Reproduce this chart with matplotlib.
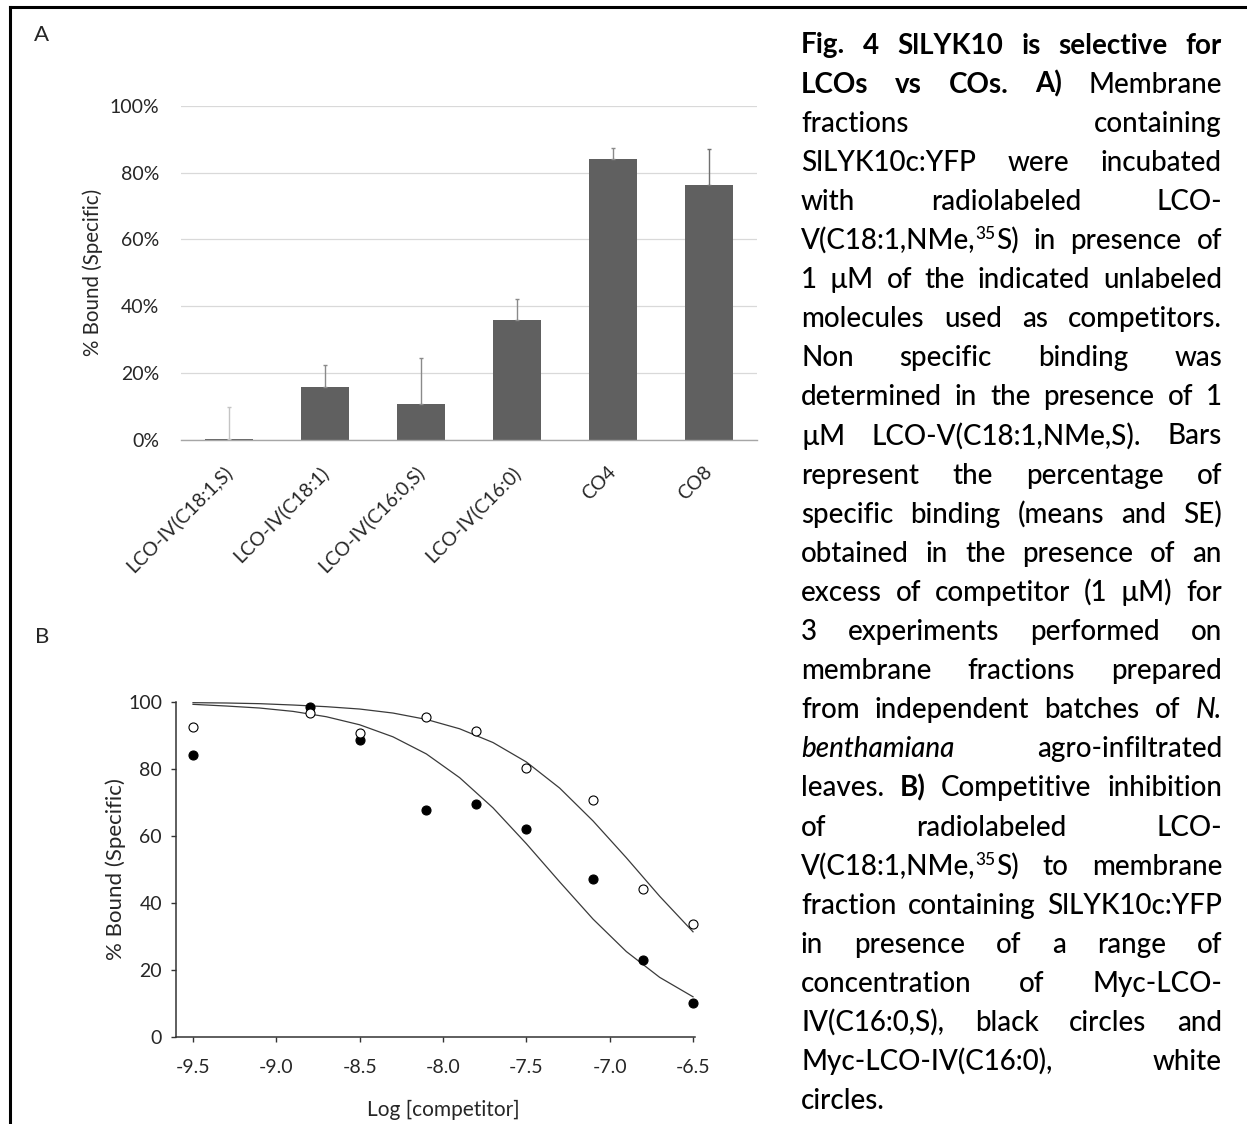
import matplotlib
matplotlib.use('Agg')
import matplotlib.pyplot as plt
from matplotlib.font_manager import FontProperties
from matplotlib.lines import Line2D
import numpy as np

plt.rcParams['font.family'] = ['Lato', 'DejaVu Sans']
plt.rcParams['axes.unicode_minus'] = False

W, H, DPI = 1247, 1124, 100

# ---------------- Panel A data ----------------
categories = ['LCO-IV(C18:1,S)', 'LCO-IV(C18:1)', 'LCO-IV(C16:0,S)',
              'LCO-IV(C16:0)', 'CO4', 'CO8']
bound_mean = [0.3, 15.8, 10.9, 35.9, 84.2, 76.4]
bound_se = [9.7, 6.7, 13.6, 6.2, 3.1, 10.5]
yticks_a = [0, 20, 40, 60, 80, 100]
ytick_labels_a = ['0%', '20%', '40%', '60%', '80%', '100%']

# ---------------- Panel B data ----------------
log_conc = [-9.5, -8.8, -8.5, -8.1, -7.8, -7.5, -7.1, -6.8, -6.5]
black_vals = [84.3, 98.5, 88.8, 67.9, 69.5, 62.0, 47.1, 23.0, 10.1]
white_vals = [92.5, 96.8, 90.6, 95.5, 91.4, 80.4, 70.7, 44.1, 33.7]
curve_x = [-9.5, -9.3, -9.1, -8.9, -8.7, -8.5, -8.3, -8.1,
           -7.9, -7.7, -7.5, -7.3, -7.1, -6.9, -6.7, -6.5]
black_curve = [99.3, 98.8, 98.2, 97.2, 95.6, 93.2, 89.6, 84.5,
               77.4, 68.4, 57.7, 46.3, 35.2, 25.5, 17.8, 12.0]
white_curve = [99.8, 99.7, 99.5, 99.1, 98.6, 97.9, 96.7, 94.8,
               92.0, 87.9, 82.1, 74.3, 64.5, 53.5, 42.0, 31.4]
xticks_b = [-9.5, -9.0, -8.5, -8.0, -7.5, -7.0, -6.5]
xtick_labels_b = ['-9.5', '-9.0', '-8.5', '-8.0', '-7.5', '-7.0', '-6.5']
yticks_b = [0, 20, 40, 60, 80, 100]

# ---------------- Caption ----------------
caption_lines = [
    "**Fig. 4 SlLYK10 is selective for**",
    "**LCOs vs COs. A)** Membrane",
    "fractions containing",
    "SlLYK10c:YFP were incubated",
    "with radiolabeled LCO-",
    "V(C18:1,NMe,^35^S) in presence of",
    "1 µM of the indicated unlabeled",
    "molecules used as competitors.",
    "Non specific binding was",
    "determined in the presence of 1",
    "µM LCO-V(C18:1,NMe,S). Bars",
    "represent the percentage of",
    "specific binding (means and SE)",
    "obtained in the presence of an",
    "excess of competitor (1 µM) for",
    "3 experiments performed on",
    "membrane fractions prepared",
    "from independent batches of *N.*",
    "*benthamiana* agro-infiltrated",
    "leaves. **B)** Competitive inhibition",
    "of radiolabeled LCO-",
    "V(C18:1,NMe,^35^S) to membrane",
    "fraction containing SlLYK10c:YFP",
    "in presence of a range of",
    "concentration of Myc-LCO-",
    "IV(C16:0,S), black circles and",
    "Myc-LCO-IV(C16:0), white",
    "circles.",
]

fig = plt.figure(figsize=(W / DPI, H / DPI), dpi=DPI)
fig.patch.set_facecolor('white')

TXT = '#262626'


def fx(px):
    return px / W


def fy(py):
    return 1 - py / H


# ---------------- Panel A ----------------
axA = fig.add_axes([fx(181), fy(440), 576 / W, 334.3 / H])
xa = np.arange(len(categories))
axA.bar(xa, bound_mean, width=0.49, color='#606060', zorder=2)
err_colors = ['#c4c4c4', '#8a8a8a', '#8a8a8a', '#8a8a8a', '#8a8a8a', '#707070']
for i in range(len(categories)):
    axA.errorbar(xa[i], bound_mean[i], yerr=[[0], [bound_se[i]]], fmt='none',
                 ecolor=err_colors[i], elinewidth=1.0, capsize=1.5,
                 capthick=1.0, zorder=3)
axA.set_xlim(-0.5, len(categories) - 0.5)
axA.set_ylim(0, 100)
axA.set_yticks(yticks_a)
axA.set_yticklabels(ytick_labels_a)
axA.set_xticks(xa)
axA.set_xticklabels(categories, rotation=45, ha='right', va='center',
                    rotation_mode='anchor')
axA.yaxis.grid(True, color='#d9d9d9', linewidth=0.9, zorder=0)
axA.set_axisbelow(True)
for s in ['left', 'top', 'right']:
    axA.spines[s].set_visible(False)
axA.spines['bottom'].set_color('#a6a6a6')
axA.spines['bottom'].set_linewidth(1.0)
axA.tick_params(axis='y', length=0, pad=15.5, labelsize=14, colors=TXT)
axA.tick_params(axis='x', length=0, pad=21, labelsize=14, colors=TXT)
axA.set_ylabel('% Bound (Specific)', fontsize=14.8, color=TXT)
axA.yaxis.label.set_va('center')
axA.yaxis.set_label_coords(-0.153, 0.5025)

# ---------------- Panel B ----------------
axB = fig.add_axes([fx(176), fy(1037), 518.7 / W, 335 / H])
axB.plot(curve_x, black_curve, color='#3a3a3a', lw=0.9, zorder=2)
axB.plot(curve_x, white_curve, color='#3a3a3a', lw=0.9, zorder=2)
axB.plot(log_conc, black_vals, 'o', ms=6.5, mfc='black', mec='black',
         mew=0.8, zorder=3, clip_on=False)
axB.plot(log_conc, white_vals, 'o', ms=6.5, mfc='white', mec='black',
         mew=0.8, zorder=4, clip_on=False)
axB.set_xlim(-9.602, -6.49)
axB.set_ylim(0, 100)
axB.set_xticks(xticks_b)
axB.set_xticklabels(xtick_labels_b)
axB.set_yticks(yticks_b)
for s in ['top', 'right']:
    axB.spines[s].set_visible(False)
for s in ['left', 'bottom']:
    axB.spines[s].set_color('#333333')
    axB.spines[s].set_linewidth(1.1)
axB.tick_params(axis='both', direction='out', length=3.6, width=1.0,
                color='#333333', labelsize=14, labelcolor=TXT)
axB.tick_params(axis='x', pad=12.5)
axB.tick_params(axis='y', pad=6.5)
axB.set_xlabel('Log [competitor]', fontsize=15, color=TXT)
axB.xaxis.label.set_va('center')
axB.xaxis.set_label_coords(0.515, -0.218)
axB.set_ylabel('% Bound (Specific)', fontsize=16, color=TXT)
axB.yaxis.label.set_va('center')
axB.yaxis.set_label_coords(-0.1157, 0.5015)

# ---------------- Panel letters ----------------
fig.text(fx(42), fy(35), 'A', ha='center', va='center', fontsize=16, color=TXT)
fig.text(fx(42), fy(637), 'B', ha='center', va='center', fontsize=16, color=TXT)

# ---------------- Border lines ----------------
fig.add_artist(Line2D([fx(10), 1.0], [fy(7), fy(7)], lw=2.2, color='black'))
fig.add_artist(Line2D([fx(10), fx(10)], [fy(7), 0.0], lw=2.2, color='black'))

# ---------------- Justified caption ----------------
renderer = fig.canvas.get_renderer()


def parse(line):
    words = []
    runs = []
    buf = ''
    st = {'b': False, 'i': False, 's': False}

    def flush():
        nonlocal buf
        if buf:
            runs.append((buf, st['b'], st['i'], st['s']))
            buf = ''

    i = 0
    while i < len(line):
        if line.startswith('**', i):
            flush()
            st['b'] = not st['b']
            i += 2
            continue
        c = line[i]
        if c == '*':
            flush()
            st['i'] = not st['i']
        elif c == '^':
            flush()
            st['s'] = not st['s']
        elif c == ' ':
            flush()
            if runs:
                words.append(runs)
                runs = []
        else:
            buf += c
        i += 1
    flush()
    if runs:
        words.append(runs)
    return words


def fprop(b, it, sup, fs):
    return FontProperties(family=['Lato', 'DejaVu Sans'],
                          weight='bold' if b else 500,
                          style='italic' if it else 'normal',
                          size=fs * 0.62 if sup else fs)


def text_w(s, fp):
    t = fig.text(0, 0, s, fontproperties=fp)
    w = t.get_window_extent(renderer).width
    t.remove()
    return w


parsed = [parse(l) for l in caption_lines]
X0, X1 = 801, 1222
avail = X1 - X0


def measure(fs):
    fpn = fprop(False, False, False, fs)
    sp = text_w('a a', fpn) - text_w('aa', fpn)
    line_info = []
    for words in parsed:
        ww = []
        for w in words:
            ww.append([text_w(r[0], fprop(r[1], r[2], r[3], fs)) for r in w])
        line_info.append(ww)
    return sp, line_info


fs = 20.0
sp, info = measure(fs)
maxnat = max(sum(sum(w) for w in ww) + sp * (len(ww) - 1) for ww in info)
if maxnat > avail:
    fs = fs * avail / maxnat * 0.995
    sp, info = measure(fs)

base0 = 53.5
step = 39.1
fs_px = fs * DPI / 72.0
for li, (words, ww) in enumerate(zip(parsed, info)):
    baseline = base0 + li * step
    tot = sum(sum(w) for w in ww)
    n = len(words)
    if li == len(parsed) - 1 or n == 1:
        gap = sp
    else:
        gap = (avail - tot) / (n - 1)
    x = X0
    for w, wr in zip(words, ww):
        for r, rw in zip(w, wr):
            yb = baseline - (0.36 * fs_px if r[3] else 0)
            fig.text(fx(x), fy(yb), r[0], fontproperties=fprop(r[1], r[2], r[3], fs),
                     ha='left', va='baseline', color='black')
            x += rw
        x += gap

fig.savefig('out.png', dpi=DPI, facecolor='white')
